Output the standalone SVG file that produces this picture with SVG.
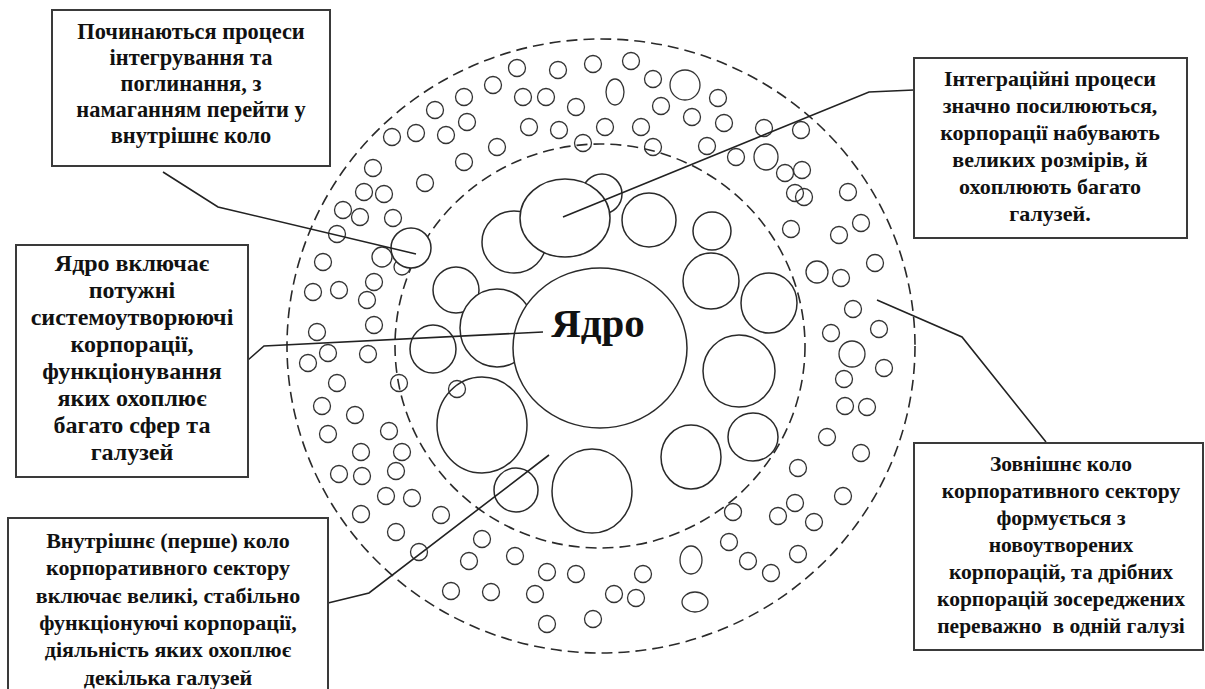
<svg xmlns="http://www.w3.org/2000/svg" width="1205" height="689" viewBox="0 0 1205 689">
<style>
.bg{fill:#fff}
.dash{fill:none;stroke:#2a2a2a;stroke-width:1.6;stroke-dasharray:11 6}
.s{fill:none;stroke:#333;stroke-width:1.3}
.b{fill:#fff;stroke:#2a2a2a;stroke-width:1.5}
.box{fill:#fff;stroke:#3a3a3a;stroke-width:2}
.t{font-family:"Liberation Serif","Times New Roman",serif;font-weight:bold;font-size:21px;fill:#111;text-anchor:middle}
.core{font-family:"Liberation Serif","Times New Roman",serif;font-weight:bold;font-size:41px;fill:#111;text-anchor:middle}
.ln{fill:none;stroke:#222;stroke-width:1.6}
#box-integration-start .t{font-size:22.4px}
#box-integration-strong .t{font-size:22px}
#box-core .t{font-size:24px}
#box-inner-circle .t{font-size:22px}
#box-outer-circle .t{font-size:21.5px}
</style>
<rect class="bg" x="0" y="0" width="1205" height="689"/>

<g id="outer-ring">
<ellipse class="dash" cx="601" cy="346" rx="314" ry="307"/>
</g>
<g id="inner-ring">
<ellipse class="dash" cx="600" cy="346" rx="205" ry="202"/>
</g>

<g id="small-corporations">
<circle class="s" cx="517" cy="68" r="8.5"/><circle class="s" cx="558" cy="70" r="8.5"/><circle class="s" cx="593" cy="64" r="8.5"/>
<circle class="s" cx="493" cy="85" r="8.5"/><circle class="s" cx="464" cy="97" r="8.5"/><circle class="s" cx="523" cy="97" r="8.5"/>
<circle class="s" cx="546" cy="97" r="8.5"/><circle class="s" cx="576" cy="107" r="8.5"/><circle class="s" cx="435" cy="110" r="8.5"/>
<circle class="s" cx="467" cy="122" r="8.5"/><circle class="s" cx="529" cy="127" r="8.5"/><circle class="s" cx="559" cy="130" r="8.5"/>
<circle class="s" cx="605" cy="127" r="8.5"/><circle class="s" cx="392" cy="137" r="8.5"/><circle class="s" cx="416" cy="133" r="8.5"/>
<circle class="s" cx="446" cy="135" r="8.5"/><circle class="s" cx="497" cy="147" r="8.5"/><circle class="s" cx="583" cy="143" r="8.5"/>
<circle class="s" cx="464" cy="162" r="8.5"/><circle class="s" cx="373" cy="168" r="8.5"/><circle class="s" cx="425" cy="183" r="8.5"/>
<circle class="s" cx="364" cy="192" r="8.5"/><circle class="s" cx="384" cy="194" r="8.5"/><circle class="s" cx="343" cy="210" r="8.5"/>
<circle class="s" cx="360" cy="217" r="8.5"/><circle class="s" cx="393" cy="218" r="8.5"/><circle class="s" cx="337" cy="234" r="8.5"/>
<circle class="s" cx="382" cy="257" r="10"/><circle class="s" cx="402" cy="267" r="8"/><circle class="s" cx="323" cy="262" r="8.5"/>
<circle class="s" cx="374" cy="282" r="8.5"/><circle class="s" cx="313" cy="292" r="8.5"/><circle class="s" cx="339" cy="290" r="8.5"/>
<circle class="s" cx="367" cy="300" r="8.5"/><circle class="s" cx="317" cy="332" r="8.5"/><circle class="s" cx="374" cy="325" r="8.5"/>

<circle class="s" cx="308" cy="363" r="8.5"/><circle class="s" cx="328" cy="353" r="8.5"/><circle class="s" cx="368" cy="354" r="8.5"/>
<circle class="s" cx="399" cy="383" r="8.5"/><circle class="s" cx="337" cy="383" r="8.5"/><circle class="s" cx="322" cy="406" r="8.5"/>
<circle class="s" cx="355" cy="415" r="8.5"/><circle class="s" cx="328" cy="434" r="8.5"/><circle class="s" cx="389" cy="431" r="8.5"/>
<circle class="s" cx="361" cy="452" r="8.5"/><circle class="s" cx="402" cy="452" r="8.5"/><circle class="s" cx="339" cy="474" r="8.5"/>
<circle class="s" cx="362" cy="476" r="8.5"/><circle class="s" cx="396" cy="471" r="8.5"/><circle class="s" cx="386" cy="496" r="8.5"/>
<circle class="s" cx="412" cy="498" r="8.5"/><circle class="s" cx="361" cy="514" r="8.5"/><circle class="s" cx="441" cy="515" r="8.5"/>
<circle class="s" cx="396" cy="532" r="8.5"/><circle class="s" cx="419" cy="552" r="8.5"/><circle class="s" cx="482" cy="539" r="8.5"/>
<circle class="s" cx="469" cy="561" r="8.5"/><circle class="s" cx="515" cy="556" r="8.5"/><circle class="s" cx="547" cy="572" r="8.5"/>
<circle class="s" cx="576" cy="574" r="8.5"/><circle class="s" cx="451" cy="591" r="8.5"/><circle class="s" cx="491" cy="592" r="8.5"/>
<circle class="s" cx="535" cy="594" r="8.5"/><circle class="s" cx="547" cy="624" r="8.5"/><circle class="s" cx="593" cy="619" r="8.5"/>

<circle class="s" cx="631" cy="61" r="8.5"/><ellipse class="s" cx="615" cy="92" rx="9" ry="13"/><circle class="s" cx="653" cy="79" r="8.5"/>
<circle class="s" cx="685" cy="85" r="15"/><circle class="s" cx="661" cy="106" r="8.5"/><circle class="s" cx="718" cy="98" r="8.5"/>
<circle class="s" cx="692" cy="117" r="8.5"/><circle class="s" cx="724" cy="123" r="8.5"/><circle class="s" cx="641" cy="127" r="8.5"/>
<circle class="s" cx="653" cy="147" r="8.5"/><circle class="s" cx="707" cy="146" r="8.5"/><circle class="s" cx="764" cy="128" r="8.5"/>
<circle class="s" cx="801" cy="130" r="8.5"/><circle class="s" cx="736" cy="157" r="8.5"/><ellipse class="s" cx="766" cy="157" rx="12" ry="13"/>
<circle class="s" cx="785" cy="173" r="8.5"/><circle class="s" cx="802" cy="170" r="8.5"/><circle class="s" cx="795" cy="193" r="8.5"/>
<circle class="s" cx="804" cy="197" r="8.5"/><circle class="s" cx="848" cy="192" r="8.5"/><circle class="s" cx="791" cy="229" r="8.5"/>
<circle class="s" cx="839" cy="235" r="8.5"/><circle class="s" cx="861" cy="223" r="8.5"/><circle class="s" cx="817" cy="272" r="11"/>
<circle class="s" cx="841" cy="278" r="8.5"/><circle class="s" cx="875" cy="263" r="8.5"/><circle class="s" cx="853" cy="309" r="8.5"/>
<circle class="s" cx="831" cy="333" r="8.5"/><circle class="s" cx="879" cy="329" r="8.5"/>

<circle class="s" cx="852" cy="354" r="13"/><circle class="s" cx="884" cy="368" r="8.5"/><circle class="s" cx="844" cy="379" r="8.5"/>
<circle class="s" cx="845" cy="406" r="8.5"/><circle class="s" cx="867" cy="407" r="8.5"/><circle class="s" cx="827" cy="437" r="8.5"/>
<circle class="s" cx="861" cy="453" r="8.5"/><circle class="s" cx="798" cy="468" r="8.5"/><circle class="s" cx="843" cy="496" r="8.5"/>
<circle class="s" cx="795" cy="503" r="8.5"/><circle class="s" cx="778" cy="516" r="8.5"/><circle class="s" cx="814" cy="522" r="8.5"/>
<circle class="s" cx="733" cy="512" r="8.5"/><circle class="s" cx="729" cy="542" r="8.5"/><circle class="s" cx="748" cy="561" r="8.5"/>
<circle class="s" cx="771" cy="573" r="8.5"/><circle class="s" cx="798" cy="554" r="8.5"/><ellipse class="s" cx="691" cy="560" rx="11" ry="14"/>
<ellipse class="s" cx="695" cy="602" rx="13" ry="10"/><circle class="s" cx="643" cy="574" r="8.5"/><circle class="s" cx="614" cy="594" r="8.5"/>
<circle class="s" cx="636" cy="598" r="8.5"/>
<circle class="b" cx="411" cy="248" r="20"/>
</g>

<g id="large-corporations">
<circle class="b" cx="602" cy="194" r="20"/>
<ellipse class="b" cx="514" cy="242" rx="32" ry="31"/>
<ellipse class="b" cx="565" cy="218" rx="45" ry="39"/>
<circle class="b" cx="649" cy="220" r="27"/>
<circle class="b" cx="712" cy="231" r="19"/>
<circle class="b" cx="711" cy="281" r="28"/>
<ellipse class="b" cx="769" cy="303" rx="28" ry="30"/>
<circle class="b" cx="456" cy="290" r="23"/>
<ellipse class="b" cx="433" cy="349" rx="23" ry="24"/>
<ellipse class="b" cx="497" cy="328" rx="37" ry="39"/>
<ellipse class="b" cx="739" cy="371" rx="36" ry="36"/>
<ellipse class="b" cx="482" cy="425" rx="45" ry="48"/>
<circle class="s" cx="457" cy="389" r="8.5"/>
<circle class="b" cx="516" cy="490" r="22"/>
<ellipse class="b" cx="592" cy="491" rx="40" ry="42"/>
<ellipse class="b" cx="691" cy="457" rx="30" ry="32"/>
<ellipse class="b" cx="753" cy="437" rx="25" ry="24"/>
</g>

<g id="core">
<ellipse class="b" cx="600" cy="348" rx="87" ry="80"/>
<text class="core" x="598" y="337">Ядро</text>
</g>

<g id="connectors">
<polyline class="ln" points="163,172 218,207 416,254"/>
<polyline class="ln" points="914,90 869,92 563,217"/>
<polyline class="ln" points="248,360 264,346 543,332"/>
<polyline class="ln" points="328,603 369,593 549,455"/>
<polyline class="ln" points="877,300 962,337 1046,442"/>
</g>

<g id="box-integration-start">
<rect class="box" x="52" y="10" width="278" height="156"/>
<text class="t" x="191" y="39">Починаються процеси</text>
<text class="t" x="191" y="65">інтегрування та</text>
<text class="t" x="191" y="91">поглинання, з</text>
<text class="t" x="191" y="117">намаганням перейти у</text>
<text class="t" x="191" y="143">внутрішнє коло</text>
</g>

<g id="box-integration-strong">
<rect class="box" x="914" y="58" width="273" height="180"/>
<text class="t" x="1050" y="86">Інтеграційні процеси</text>
<text class="t" x="1050" y="113">значно посилюються,</text>
<text class="t" x="1050" y="140">корпорації набувають</text>
<text class="t" x="1050" y="167">великих розмірів, й</text>
<text class="t" x="1050" y="194">охоплюють багато</text>
<text class="t" x="1050" y="221">галузей.</text>
</g>

<g id="box-core">
<rect class="box" x="16" y="245" width="232" height="232"/>
<text class="t" x="132" y="271">Ядро включає</text>
<text class="t" x="132" y="298">потужні</text>
<text class="t" x="132" y="325">системоутворюючі</text>
<text class="t" x="132" y="352">корпорації,</text>
<text class="t" x="132" y="379">функціонування</text>
<text class="t" x="132" y="406">яких охоплює</text>
<text class="t" x="132" y="433">багато сфер та</text>
<text class="t" x="132" y="460">галузей</text>
</g>

<g id="box-inner-circle">
<rect class="box" x="8" y="518" width="320" height="190"/>
<text class="t" x="168" y="548">Внутрішнє (перше) коло</text>
<text class="t" x="168" y="575">корпоративного сектору</text>
<text class="t" x="168" y="603">включає великі, стабільно</text>
<text class="t" x="168" y="630">функціонуючі корпорації,</text>
<text class="t" x="168" y="657">діяльність яких охоплює</text>
<text class="t" x="168" y="685">декілька галузей</text>
</g>

<g id="box-outer-circle">
<rect class="box" x="914" y="443" width="289" height="207"/>
<text class="t" x="1061" y="471">Зовнішнє коло</text>
<text class="t" x="1061" y="498">корпоративного сектору</text>
<text class="t" x="1061" y="525">формується з</text>
<text class="t" x="1061" y="552">новоутворених</text>
<text class="t" x="1061" y="579">корпорацій, та дрібних</text>
<text class="t" x="1061" y="606">корпорацій зосереджених</text>
<text class="t" x="1061" y="633" xml:space="preserve">переважно  в одній галузі</text>
</g>
</svg>
